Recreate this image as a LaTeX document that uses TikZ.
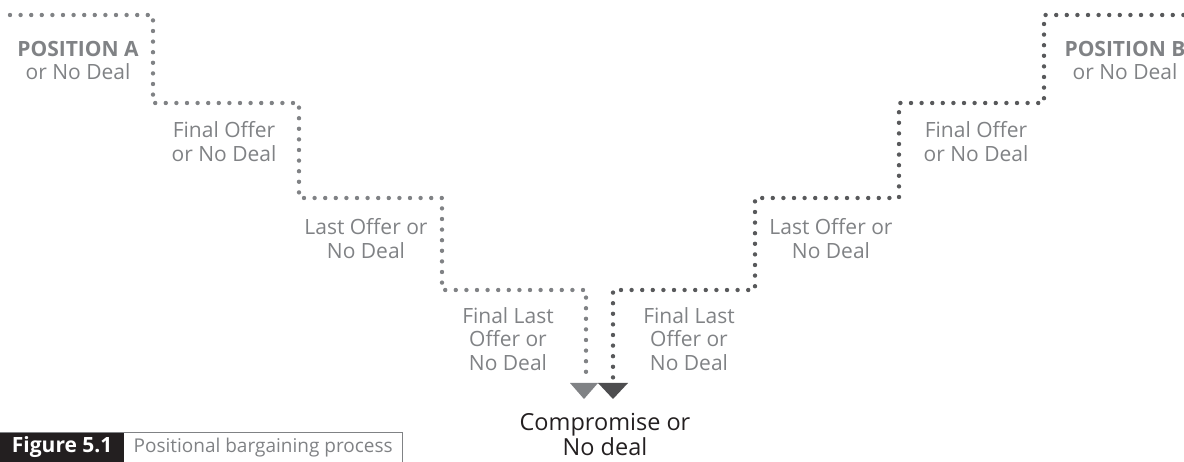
\documentclass[tikz,border=0pt]{standalone}
\usepackage{fontspec}
\setmainfont{Open Sans}
\usepackage{tikz}
\usetikzlibrary{positioning}

\definecolor{txtgray}{HTML}{808285}
\definecolor{dotlight}{HTML}{808285}
\definecolor{dotdark}{HTML}{58595B}
\definecolor{tipdark}{HTML}{4D4D4F}
\definecolor{inkblack}{HTML}{231F20}

\tikzset{
  dots/.style={line width=4.4pt, line cap=round, dash pattern=on 0pt off 10.6pt},
  lbl/.style={text=txtgray, align=center, font=\fontsize{21}{23.5}\selectfont, inner sep=0pt}
}

\begin{document}
\begin{tikzpicture}[x=1pt,y=-1pt]
\useasboundingbox (0,0) rectangle (1184,462);
\clip (0,0) rectangle (1184,462);

% corners of the left stairs
\coordinate (a0) at (10,15);
\coordinate (a1) at (153,15);
\coordinate (a2) at (153,103);
\coordinate (a3) at (299,103);
\coordinate (a4) at (299,198);
\coordinate (a5) at (442,198);
\coordinate (a6) at (442,290);
\coordinate (a7) at (586,290);
\coordinate (a8) at (586,378);

% corners of the right stairs
\coordinate (b0) at (1194,15);
\coordinate (b1) at (1044,15);
\coordinate (b2) at (1044,103);
\coordinate (b3) at (899,103);
\coordinate (b4) at (899,198);
\coordinate (b5) at (755,198);
\coordinate (b6) at (755,290);
\coordinate (b7) at (613,290);
\coordinate (b8) at (613,378);

\draw[dots, dotlight] (a0) -- (a1) -- (a2) -- (a3) -- (a4) -- (a5) -- (a6) -- (a7) -- (a8);
\draw[dots, dotdark] (b0) -- (b1) -- (b2) -- (b3) -- (b4) -- (b5) -- (b6) -- (b7) -- (b8);

% arrow heads
\fill[dotlight] (a8) ++(-16,5) -- ++(28,0) -- ++(-14,16) -- cycle;
\fill[tipdark] (b8) ++(-15,5) -- ++(30,0) -- ++(-15,16) -- cycle;

\node[lbl] (posA) at (78,60.5) {\textbf{POSITION A}\\or No Deal};
\node[lbl] (offA) at (224,141.5) {Final Offer\\or No Deal};
\node[lbl] (lastA) at (366,238.5) {Last Offer or\\No Deal};
\node[lbl] (finA) at (508,339) {Final Last\\Offer or\\No Deal};

\node[lbl] (posB) at (1125,60.5) {\textbf{POSITION B}\\or No Deal};
\node[lbl] (offB) at (976,141.5) {Final Offer\\or No Deal};
\node[lbl] (lastB) at (831,238.5) {Last Offer or\\No Deal};
\node[lbl] (finB) at (689,339) {Final Last\\Offer or\\No Deal};

\node[align=center, text=inkblack, inner sep=0pt, font=\fontsize{23.5}{25}\selectfont] (deal) at (605,434) {Compromise or\\No deal};

% caption
\node[fill=inkblack, text=white, font=\bfseries\fontsize{21}{21}\selectfont, minimum width=124pt, minimum height=30pt, inner sep=0pt, anchor=north west] (fig) at (0,432) {Figure 5.1};
\node[text=txtgray, font=\fontsize{19}{19}\selectfont, inner sep=0pt, anchor=west, right=9pt of fig] (cap) {Positional bargaining process};
\coordinate (capend) at (402,432);
\draw[txtgray, line width=1pt] (fig.north west) -- (capend) -- (capend |- fig.south);
\end{tikzpicture}
\end{document}
